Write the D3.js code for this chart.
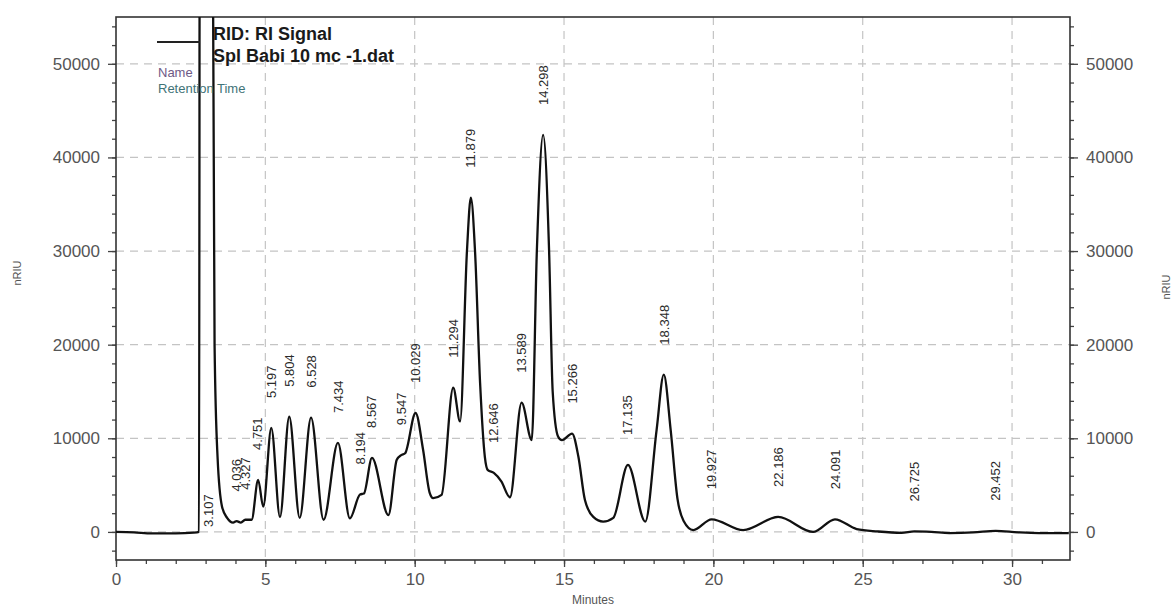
<!DOCTYPE html>
<html>
<head>
<meta charset="utf-8">
<script src="https://cdn.jsdelivr.net/npm/d3@7"></script>
<style>
  body { margin: 0; background: #fff; }
  text { font-family: "Liberation Sans", Arial, sans-serif; }
</style>
</head>
<body>
<svg id="viz" width="1176" height="608"></svg>
<script>
// RI trace (minutes, nRIU)
var traceTime = [0, 0.6, 1.2, 2.0, 2.6, 2.78, 2.81, 3.20, 3.30, 3.40, 3.55, 3.72, 3.92, 4.04, 4.18, 4.33,
  4.54, 4.76, 4.93, 5.20, 5.49, 5.80, 6.15, 6.53, 6.95, 7.43, 7.83, 8.17, 8.30, 8.57, 9.12, 9.40,
  9.55, 9.68, 10.03, 10.28, 10.50, 10.62, 10.90, 11.29, 11.52, 11.75, 11.88, 12.02, 12.19, 12.35,
  12.45, 12.65, 12.90, 13.19, 13.58, 13.92, 14.09, 14.30, 14.50, 14.62, 14.80, 14.93, 15.27, 15.48,
  15.70, 15.98, 16.31, 16.65, 17.14, 17.72, 18.10, 18.34, 18.57, 18.80, 19.00, 19.33, 19.94, 21.00,
  22.17, 23.34, 24.07, 24.80, 25.50, 26.30, 26.73, 27.30, 27.90, 28.70, 29.45, 30.20, 30.90, 31.90];
var traceSignal = [0, -50, -150, -150, -80, 0, 90000, 90000, 20000, 8000, 2700, 1500, 1000, 1150, 1000, 1300,
  1300, 5550, 2700, 11100, 1600, 12300, 1500, 12200, 1300, 9500, 1450, 4000, 4100, 7900, 1800, 7700,
  8200, 8400, 12700, 8800, 4200, 3600, 3950, 15400, 11800, 30000, 35700, 30000, 15900, 8000,
  6600, 6300, 5400, 3700, 13800, 9800, 30000, 42400, 30000, 15000, 10200, 9800, 10500, 8050,
  3400, 1600, 1100, 1500, 7150, 1100, 10900, 16800, 10900, 3500, 1200, 200, 1350, 200,
  1600, 0, 1350, 300, 50, -100, 50, 0, -120, -60, 120, -40, -120, -120];

// integrated peaks: retention time and apex height
var peakTimes = [3.107, 4.036, 4.327, 4.751, 5.197, 5.804, 6.528, 7.434, 8.194, 8.567, 9.547, 10.029,
  11.294, 11.879, 12.646, 13.589, 14.298, 15.266, 17.135, 18.348, 19.927, 22.186, 24.091, 26.725, 29.452];
var peakHeights = [90000, 1100, 1300, 5550, 11100, 12300, 12200, 9500, 4000, 7900, 8200, 12700,
  15400, 35700, 6300, 13800, 42400, 10500, 7150, 16800, 1350, 1600, 1350, 50, 120];

var xTicks = [0, 5, 10, 15, 20, 25, 30];
var yTicks = [0, 10000, 20000, 30000, 40000, 50000];

var svg = d3.select("#viz"),
  width = +svg.attr("width"),
  height = +svg.attr("height");

var plotLeft = 116, plotRight = 1070, plotTop = 17, plotBottom = 560;

var x = d3.scaleLinear().domain([0, 31.94]).range([plotLeft, plotRight]);
var y = d3.scaleLinear().domain([-3000, 55000]).range([plotBottom, plotTop]);

svg.append("rect").attr("width", width).attr("height", height).attr("fill", "#fff");

// dashed grid
var grid = svg.append("g").attr("class", "grid")
  .attr("stroke", "#c4c4c4").attr("stroke-width", 1.2).attr("stroke-dasharray", "8,6");
grid.selectAll(".vx").data(xTicks.slice(1)).enter().append("line")
  .attr("x1", function(d) { return x(d); }).attr("x2", function(d) { return x(d); })
  .attr("y1", plotTop).attr("y2", plotBottom);
grid.selectAll(".hy").data(yTicks).enter().append("line")
  .attr("x1", plotLeft).attr("x2", plotRight)
  .attr("y1", function(d) { return y(d); }).attr("y2", function(d) { return y(d); });

// axes
var minorY = d3.range(-2000, 55001, 2000);
var minorX = d3.range(0, 32, 1);

function styleAxis(g) {
  g.select(".domain").remove();
  g.selectAll(".tick line").attr("stroke", "#444").attr("stroke-width", 1.3);
  g.selectAll(".tick text").attr("fill", "#555").attr("font-size", 17);
}

svg.append("g").attr("transform", "translate(" + plotLeft + ",0)")
  .call(d3.axisLeft(y).tickValues(minorY).tickSize(4).tickFormat(""))
  .call(styleAxis);
svg.append("g").attr("transform", "translate(" + plotLeft + ",0)")
  .call(d3.axisLeft(y).tickValues(yTicks).tickSize(8).tickPadding(8).tickFormat(d3.format("d")))
  .call(styleAxis);
svg.append("g").attr("transform", "translate(" + plotRight + ",0)")
  .call(d3.axisRight(y).tickValues(minorY).tickSize(4).tickFormat(""))
  .call(styleAxis);
svg.append("g").attr("transform", "translate(" + plotRight + ",0)")
  .call(d3.axisRight(y).tickValues(yTicks).tickSize(8).tickPadding(8).tickFormat(d3.format("d")))
  .call(styleAxis);
svg.append("g").attr("transform", "translate(0," + plotBottom + ")")
  .call(d3.axisBottom(x).tickValues(minorX).tickSize(4).tickFormat(""))
  .call(styleAxis);
svg.append("g").attr("transform", "translate(0," + plotBottom + ")")
  .call(d3.axisBottom(x).tickValues(xTicks).tickSize(7).tickPadding(6).tickFormat(d3.format("d")))
  .call(styleAxis);

// frame
svg.append("rect")
  .attr("x", plotLeft).attr("y", plotTop)
  .attr("width", plotRight - plotLeft).attr("height", plotBottom - plotTop)
  .attr("fill", "none").attr("stroke", "#333").attr("stroke-width", 1.6);

// trace
svg.append("clipPath").attr("id", "plotclip")
  .append("rect").attr("x", plotLeft).attr("y", plotTop)
  .attr("width", plotRight - plotLeft).attr("height", plotBottom - plotTop);

var line = d3.line()
  .x(function(d, i) { return x(traceTime[i]); })
  .y(function(d) { return y(d); })
  .curve(d3.curveMonotoneX);

svg.append("path")
  .datum(traceSignal)
  .attr("clip-path", "url(#plotclip)")
  .attr("fill", "none")
  .attr("stroke", "#111")
  .attr("stroke-width", 2.3)
  .attr("stroke-linejoin", "round")
  .attr("d", line);

// peak labels
var yMax = y.domain()[1];
svg.append("g").attr("class", "peaks")
  .selectAll("text")
  .data(peakTimes)
  .enter()
  .append("text")
  .attr("transform", function(d, i) {
    var h = peakHeights[i];
    var py = h > yMax ? y(0) - 5 : y(h) - 30;
    return "translate(" + x(d) + "," + py + ") rotate(-90)";
  })
  .attr("dy", "0.35em")
  .attr("font-size", 13)
  .attr("fill", "#2a2a2a")
  .text(function(d) { return d3.format(".3f")(d); });

// legend
svg.append("line").attr("x1", 157).attr("x2", 200).attr("y1", 42).attr("y2", 42)
  .attr("stroke", "#222").attr("stroke-width", 2);
svg.append("text").attr("x", 213).attr("y", 40).attr("font-size", 18).attr("font-weight", "bold")
  .attr("fill", "#1a1a1a").text("RID: RI Signal");
svg.append("text").attr("x", 213).attr("y", 62).attr("font-size", 18).attr("font-weight", "bold")
  .attr("fill", "#1a1a1a").text("Spl Babi 10 mc -1.dat");
svg.append("text").attr("x", 158).attr("y", 77).attr("font-size", 13).attr("fill", "#6e5a86").text("Name");
svg.append("text").attr("x", 158).attr("y", 93).attr("font-size", 13).attr("fill", "#3f7377").text("Retention Time");

// axis titles
svg.append("text").attr("transform", "translate(21,273) rotate(-90)")
  .attr("text-anchor", "middle").attr("font-size", 11).attr("fill", "#555").text("nRIU");
svg.append("text").attr("transform", "translate(1170,287) rotate(-90)")
  .attr("text-anchor", "middle").attr("font-size", 11).attr("fill", "#555").text("nRIU");
svg.append("text").attr("x", 593).attr("y", 604)
  .attr("text-anchor", "middle").attr("font-size", 12).attr("fill", "#555").text("Minutes");
</script>
</body>
</html>
